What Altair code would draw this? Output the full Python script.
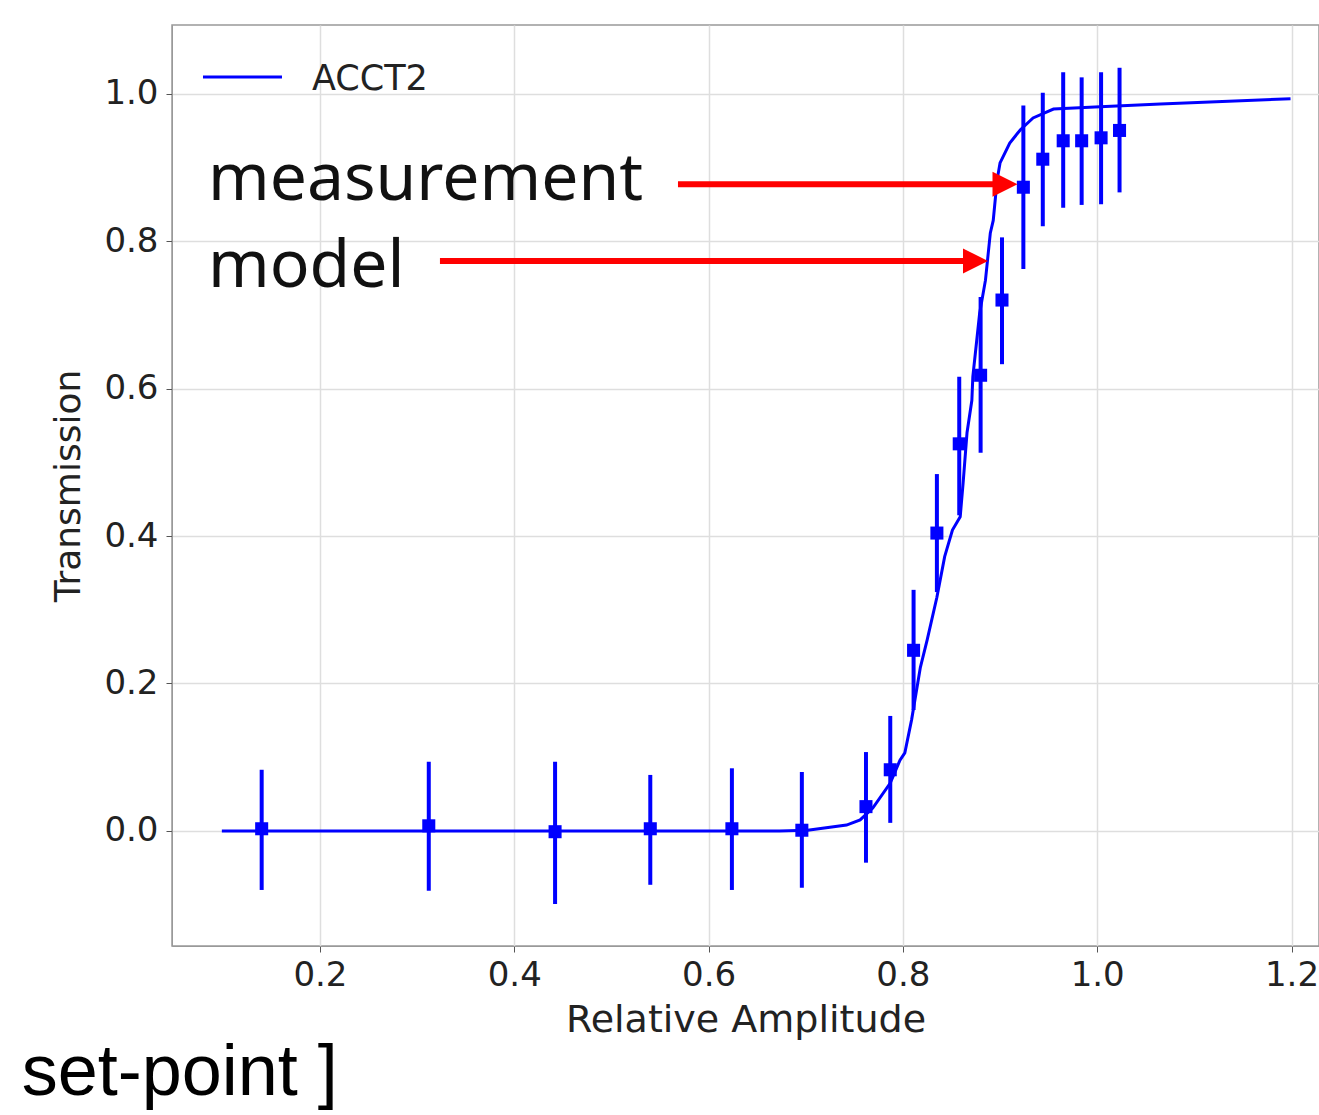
import altair as alt
import pandas as pd

# Measurement points (Relative Amplitude, Transmission) with error bar limits
meas_x = [0.140, 0.312, 0.442, 0.540, 0.624, 0.696, 0.762, 0.787, 0.811, 0.835,
          0.858, 0.880, 0.902, 0.924, 0.944, 0.965, 0.984, 1.004, 1.023]
meas_y = [0.003, 0.007, -0.001, 0.003, 0.003, 0.001, 0.033, 0.083, 0.245, 0.404,
          0.525, 0.618, 0.720, 0.873, 0.911, 0.936, 0.936, 0.940, 0.950]
err_hi = [0.083, 0.094, 0.094, 0.076, 0.085, 0.080, 0.107, 0.156, 0.327, 0.484,
          0.616, 0.724, 0.805, 0.984, 1.001, 1.029, 1.022, 1.029, 1.035]
err_lo = [-0.080, -0.081, -0.099, -0.073, -0.080, -0.077, -0.043, 0.011, 0.164, 0.324,
          0.428, 0.513, 0.633, 0.762, 0.820, 0.845, 0.849, 0.850, 0.866]

# Model curve
model_x = [0.099, 0.673, 0.702, 0.742, 0.756, 0.769, 0.787, 0.797, 0.802, 0.809,
           0.818, 0.825, 0.835, 0.843, 0.851, 0.859, 0.862, 0.866, 0.871, 0.872,
           0.879, 0.885, 0.890, 0.893, 0.897, 0.900, 0.910, 0.921, 0.934, 0.955,
           1.003, 1.065, 1.199]
model_y = [0.000, 0.000, 0.001, 0.008, 0.015, 0.031, 0.065, 0.096, 0.106, 0.151,
           0.222, 0.259, 0.317, 0.372, 0.408, 0.426, 0.472, 0.540, 0.584, 0.616,
           0.702, 0.747, 0.811, 0.828, 0.883, 0.906, 0.933, 0.951, 0.967, 0.979,
           0.982, 0.986, 0.993]

series_name = "ACCT2"
x_ticks = [0.2, 0.4, 0.6, 0.8, 1.0, 1.2]
y_ticks = [0.0, 0.2, 0.4, 0.6, 0.8, 1.0]

# annotation labels and arrows (in data units)
ann_text = ["measurement", "model"]
ann_x = [0.0847, 0.0847]
ann_y = [0.8556, 0.7376]
arrow_x1 = [0.5685, 0.3235]
arrow_x2 = [0.905, 0.870]
arrow_tip = [0.918, 0.8876]
arrow_y = [0.877, 0.773]

BLUE = "#0000ff"
RED = "#ff0000"
XDOM = [0.0477, 1.2283]
YDOM = [-0.156, 1.093]

meas = pd.DataFrame({"x": meas_x, "y": meas_y, "lo": err_lo, "hi": err_hi})
model = pd.DataFrame({"x": model_x, "y": model_y})
ann = pd.DataFrame({"x": ann_x, "y": ann_y, "t": ann_text})
arrows = pd.DataFrame({"x": arrow_x1, "x2": arrow_x2, "tip": arrow_tip, "y": arrow_y})

xs = alt.Scale(domain=XDOM, zero=False, nice=False)
ys = alt.Scale(domain=YDOM, zero=False, nice=False)

x_axis = alt.Axis(title="Relative Amplitude", values=x_ticks, format=".1f",
                  labelFontSize=34, titleFontSize=38, labelFont="DejaVu Sans",
                  titleFont="DejaVu Sans", titleFontWeight="normal", labelColor="#222",
                  titleColor="#222", grid=True, gridColor="#dedede", gridWidth=1.5,
                  domainColor="#999", tickColor="#555", tickSize=6, labelPadding=6,
                  titlePadding=9)
y_axis = alt.Axis(title="Transmission", values=y_ticks, format=".1f",
                  labelFontSize=34, titleFontSize=36, labelFont="DejaVu Sans",
                  titleFont="DejaVu Sans", titleFontWeight="normal", labelColor="#222",
                  titleColor="#222", grid=True, gridColor="#dedede", gridWidth=1.5,
                  domainColor="#999", tickColor="#555", tickSize=6, labelPadding=8,
                  titlePadding=16)

base_x = alt.X("x:Q", scale=xs, axis=x_axis)
base_y = alt.Y("y:Q", scale=ys, axis=y_axis)

line = alt.Chart(model).mark_line(color=BLUE, strokeWidth=3).encode(x=base_x, y=base_y)

bars = alt.Chart(meas).mark_rule(color=BLUE, strokeWidth=4).encode(
    x=alt.X("x:Q", scale=xs), y=alt.Y("lo:Q", scale=ys), y2="hi:Q")

squares = alt.Chart(meas).mark_square(color=BLUE, size=170, opacity=1).encode(
    x=alt.X("x:Q", scale=xs), y=alt.Y("y:Q", scale=ys))

# legend (drawn manually)
leg = pd.DataFrame({"x": [0.0796], "x2": [0.1609], "y": [1.0224],
                    "tx": [0.1918], "ty": [1.0047], "t": [series_name]})
leg_line = alt.Chart(leg).mark_rule(color=BLUE, strokeWidth=3).encode(
    x=alt.X("x:Q", scale=xs), x2="x2:Q", y=alt.Y("y:Q", scale=ys))
leg_text = alt.Chart(leg).mark_text(align="left", baseline="alphabetic", fontSize=35,
                                    font="DejaVu Sans", color="#222").encode(
    x=alt.X("tx:Q", scale=xs), y=alt.Y("ty:Q", scale=ys), text="t:N")

ann_marks = alt.Chart(ann).mark_text(align="left", baseline="alphabetic", fontSize=66,
                                     font="Noto Sans", color="#111").encode(
    x=alt.X("x:Q", scale=xs), y=alt.Y("y:Q", scale=ys), text="t:N")

arrow_lines = alt.Chart(arrows).mark_rule(color=RED, strokeWidth=6).encode(
    x=alt.X("x:Q", scale=xs), x2="x2:Q", y=alt.Y("y:Q", scale=ys))
arrow_heads = alt.Chart(arrows).mark_point(
    shape="M0,0L-2,-1L-2,1Z", size=625, filled=True, color=RED, opacity=1,
    strokeWidth=0).encode(x=alt.X("tip:Q", scale=xs), y=alt.Y("y:Q", scale=ys))

foot = pd.DataFrame({"x": [-0.107], "y": [-0.3580], "t": ["set-point ]"]})
foot_text = alt.Chart(foot).mark_text(align="left", baseline="alphabetic", fontSize=72,
                                      font="Liberation Sans", color="#000").encode(
    x=alt.X("x:Q", scale=xs), y=alt.Y("y:Q", scale=ys), text="t:N")

chart = alt.layer(line, bars, squares, leg_line, leg_text, ann_marks,
                  arrow_lines, arrow_heads, foot_text).properties(
    width=1147, height=921,
    autosize=alt.AutoSizeParams(type="none"),
    padding={"left": 172, "top": 25, "right": 0, "bottom": 168},
    background="white",
).configure_view(stroke="#999", strokeWidth=1.5)

chart.save("out.html", embed_options={"renderer": "svg", "actions": False})
